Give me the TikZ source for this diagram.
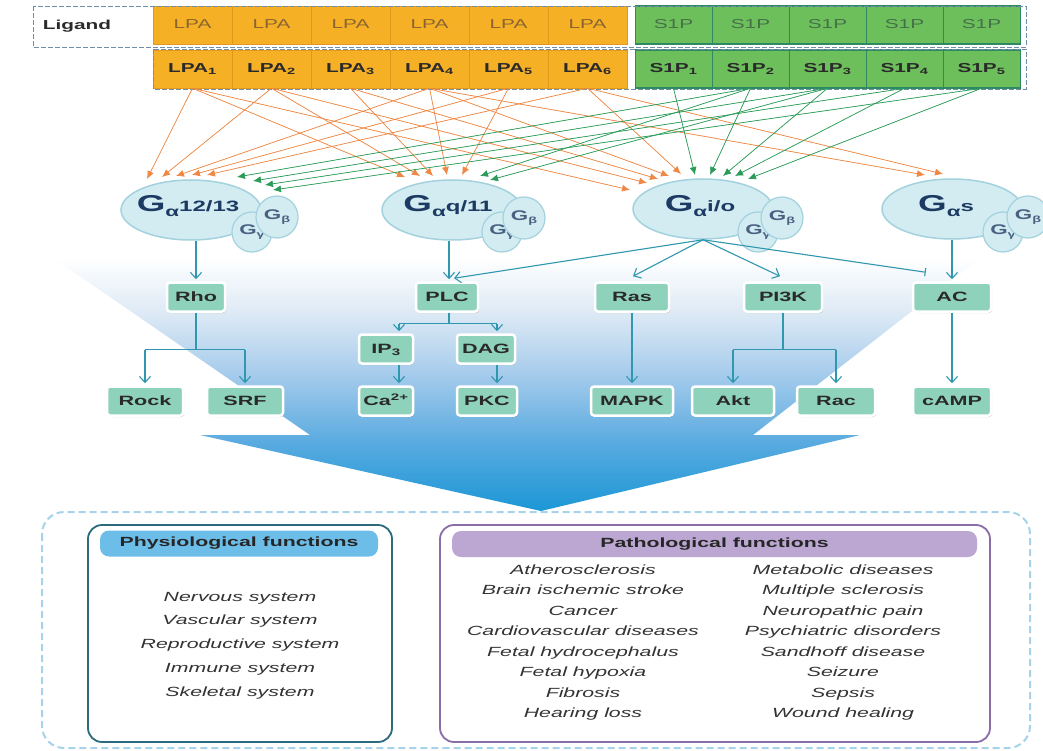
\documentclass[tikz,border=0pt]{standalone}
\usepackage{fontspec}
\setmainfont{Liberation Sans}[FakeStretch=1.6]
\usetikzlibrary{arrows.meta,shapes.geometric,shadows,calc}
\definecolor{lpaor}{HTML}{F6B026}
\definecolor{lpaline}{HTML}{E3981C}
\definecolor{sipgr}{HTML}{6DBF5C}
\definecolor{sipline}{HTML}{2E8A62}
\definecolor{arrOr}{HTML}{EE8844}
\definecolor{arrGr}{HTML}{2A9C58}
\definecolor{tealC}{HTML}{2F97AE}
\definecolor{boxg}{HTML}{8FD2BC}
\definecolor{navy}{HTML}{1D3A63}
\definecolor{ellF}{HTML}{D2ECF2}
\definecolor{ellD}{HTML}{A3D2DE}
\definecolor{dashB}{HTML}{A6D2EA}
\definecolor{dashT}{HTML}{6E8FA5}
\definecolor{physB}{HTML}{2B6B7D}
\definecolor{physH}{HTML}{6DBDE9}
\definecolor{pathB}{HTML}{8A6CA6}
\definecolor{pathH}{HTML}{BBA7D2}
\definecolor{bgA}{HTML}{1B97D6}
\definecolor{bgB}{HTML}{58AAE0}
\definecolor{bgC}{HTML}{A9CDEC}
\definecolor{bgD}{HTML}{DCE9F5}
\definecolor{txtL}{HTML}{8A6530}
\definecolor{txtS}{HTML}{46704A}
\definecolor{txtD}{HTML}{2A2A2A}
\pgfdeclareverticalshading{bgshade}{100bp}{color(0bp)=(bgA); color(25bp)=(bgA); color(37bp)=(bgB); color(50bp)=(bgC); color(60bp)=(bgD); color(70bp)=(white); color(100bp)=(white)}
\newcommand\Gsub[1]{{\fontsize{23}{23}\selectfont G}\raisebox{-5pt}{\fontsize{14}{14}\selectfont α}{\fontsize{15}{15}\selectfont #1}}
\newcommand\Gsmall[1]{{\fontsize{14}{14}\selectfont G}\raisebox{-3pt}{\fontsize{9}{9}\selectfont #1}}
\begin{document}
\begin{tikzpicture}[x=1pt,y=-1pt,
  cellL/.style={fill=lpaor,draw=lpaline,line width=0.5pt,minimum width=79pt,minimum height=38pt,inner sep=0pt,text height=9.5pt,text depth=2.5pt},
  cellS/.style={fill=sipgr,draw=sipline,line width=0.6pt,minimum width=77pt,minimum height=38pt,inner sep=0pt,text height=9.5pt,text depth=2.5pt},
  tnorm/.style={font=\fontsize{13}{13}\selectfont},
  tbold/.style={font=\fontsize{13}{13}\selectfont\bfseries,text=txtD},
  conn/.style={line width=0.7pt,-{Latex[length=8pt,width=7pt]}},
  gbig/.style={ellipse,fill=ellF,draw=ellD,line width=1.5pt,minimum width=140pt,minimum height=60pt,inner sep=0pt,text=navy,font=\bfseries},
  gsm/.style={circle,fill=ellF,draw=ellD,line width=1.2pt,inner sep=0pt,text=navy!80,font=\bfseries},
  sbox/.style={rounded corners=3pt,fill=boxg,draw=white,line width=2.5pt,minimum height=29pt,inner sep=0pt,
     font=\fontsize{13.5}{13.5}\selectfont\bfseries,text=txtD,text height=10pt,text depth=1pt,
     drop shadow={shadow xshift=1pt,shadow yshift=-1.5pt,opacity=0.35}},
  tline/.style={draw=tealC,line width=1.1pt},
  trunk/.style={draw=tealC,line width=2.6pt},
  tarr/.style={draw=tealC,line width=1.1pt,-{Straight Barb[length=6pt,width=11pt]}},
  item/.style={font=\fontsize{13.3}{13.3}\selectfont\itshape,text=black!80,text height=9.5pt,text depth=3pt,inner sep=0pt},
  head/.style={font=\fontsize{13.3}{13.3}\selectfont\bfseries,text=black!85,text height=9.5pt,text depth=3pt}
]
\useasboundingbox (0,0) rectangle (1043,751);
\clip (0,0) rectangle (1043,751);
\fill[white] (0,0) rectangle (1043,751);

% background funnel arrow
\shade[shading=bgshade] (13,230) -- (310,435) -- (200,435) -- (541,511) -- (860,435) -- (753,435) -- (1016,230) -- cycle;

% bottom dashed frame
\draw[dashB,line width=2pt,dash pattern=on 7pt off 4pt,rounded corners=22pt] (42,512) rectangle (1030,748);

% ---- top table ----
\foreach \i in {1,...,6}{
  \node[cellL,tnorm,text=txtL] (lpaT\i) at ({153+79*(\i-0.5)},25) {LPA};
  \node[cellL,tbold] (lpa\i) at ({153+79*(\i-0.5)},69) {LPA\textsubscript{\i}};
}
\foreach \i in {1,...,5}{
  \node[cellS,tnorm,text=txtS] (sT\i) at ({635+77*(\i-0.5)},25) {S1P};
  \node[cellS,tbold] (s\i) at ({635+77*(\i-0.5)},69) {S1P\textsubscript{\i}};
}
\draw[sipline,line width=1pt] (635,6) rectangle (1020,44);
\draw[sipline,line width=1pt] (635,50) rectangle (1020,88);
\draw[dashT,line width=0.8pt,dash pattern=on 5pt off 2pt] (33,6) rectangle (1026,47);
\draw[dashT,line width=0.8pt,dash pattern=on 5pt off 2pt] (153,49) rectangle (1026,89);
\node[font=\fontsize{13}{13}\selectfont\bfseries,text=txtD] (lig) at (77,26) {Ligand};

% ---- G proteins ----
\node[gbig] (g12) at (191,210) {};
\node[gsm,minimum size=40pt] (g12g) at (252,232) {\Gsmall{γ}};
\node[gsm,minimum size=42pt] (g12b) at (277,217) {\Gsmall{β}};
\node[text=navy,font=\bfseries] (g12t) at (188,206) {\Gsub{12/13}};

\node[gbig] (gq) at (452,210) {};
\node[gsm,minimum size=40pt] (gqg) at (502,232) {\Gsmall{γ}};
\node[gsm,minimum size=42pt] (gqb) at (524,218) {\Gsmall{β}};
\node[text=navy,font=\bfseries] (gqt) at (448,206) {\Gsub{q/11}};

\node[gbig] (gi) at (703,209) {};
\node[gsm,minimum size=40pt] (gig) at (758,232) {\Gsmall{γ}};
\node[gsm,minimum size=42pt] (gib) at (782,218) {\Gsmall{β}};
\node[text=navy,font=\bfseries] (git) at (700,206) {\Gsub{i/o}};

\node[gbig] (gs) at (952,209) {};
\node[gsm,minimum size=40pt] (gsg) at (1003,232) {\Gsmall{γ}};
\node[gsm,minimum size=42pt] (gsb) at (1028,217) {\Gsmall{β}};
\node[text=navy,font=\bfseries] (gst) at (946,206) {\Gsub{s}};

% ---- ligand -> G arrows ----
\coordinate (a1) at (147,179); \coordinate (a2) at (162,177); \coordinate (a3) at (176,176);
\coordinate (a4) at (192,175); \coordinate (a5) at (207,175);
\coordinate (a6) at (237,177); \coordinate (a7) at (253,181); \coordinate (a8) at (265,185); \coordinate (a9) at (273,190);
\coordinate (b1) at (405,177); \coordinate (b2) at (420,176); \coordinate (b3) at (433,176);
\coordinate (b4) at (447,175); \coordinate (b5) at (462,175);
\coordinate (b6) at (480,176); \coordinate (b7) at (490,180);
\coordinate (c1) at (630,190); \coordinate (c2) at (647,183); \coordinate (c3) at (658,179);
\coordinate (c4) at (669,176); \coordinate (c5) at (681,174);
\coordinate (c6) at (695,175); \coordinate (c7) at (710,175); \coordinate (c8) at (723,176);
\coordinate (c9) at (735,176); \coordinate (c10) at (748,179);
\coordinate (d1) at (925,175); \coordinate (d2) at (943,174);

\foreach \s/\t in {lpa1/a1,lpa2/a2,lpa4/a3,lpa5/a4,lpa6/a5,
                   lpa1/b1,lpa2/b2,lpa3/b3,lpa4/b4,lpa5/b5,
                   lpa1/c1,lpa2/c2,lpa3/c3,lpa4/c4,lpa6/c5,
                   lpa4/d1,lpa6/d2}
  \draw[conn,draw=arrOr,fill=arrOr] (\s.south) -- (\t);
\foreach \s/\t in {s2/a6,s3/a7,s4/a8,s5/a9,
                   s2/b6,s3/b7,
                   s1/c6,s2/c7,s3/c8,s4/c9,s5/c10}
  \draw[conn,draw=arrGr,fill=arrGr] (\s.south) -- (\t);

% ---- effector boxes ----
\node[sbox,minimum width=58pt] (rho) at (196,297) {Rho};
\node[sbox,minimum width=62pt] (plc) at (447,297) {PLC};
\node[sbox,minimum width=74pt] (ras) at (632,297) {Ras};
\node[sbox,minimum width=78pt] (pi3k) at (783,297) {PI3K};
\node[sbox,minimum width=78pt] (ac) at (952,297) {AC};
\node[sbox,minimum width=54pt] (ip3) at (386,349) {IP\textsubscript{3}};
\node[sbox,minimum width=58pt] (dag) at (486,349) {DAG};
\node[sbox,minimum width=76pt] (rock) at (145,401) {Rock};
\node[sbox,minimum width=76pt] (srf) at (245,401) {SRF};
\node[sbox,minimum width=54pt] (ca) at (386,401) {Ca\textsuperscript{2+}};
\node[sbox,minimum width=60pt] (pkc) at (487,401) {PKC};
\node[sbox,minimum width=82pt] (mapk) at (632,401) {MAPK};
\node[sbox,minimum width=82pt] (akt) at (733,401) {Akt};
\node[sbox,minimum width=78pt] (rac) at (836,401) {Rac};
\node[sbox,minimum width=78pt] (camp) at (952,401) {cAMP};

% ---- teal connectors ----
\draw[tarr] (rho.north |- g12.south) -- ($(rho.north)+(0,-2)$);
\draw[tarr] ($(plc.north |- gq.south)+(2,0)$) -- ($(plc.north)+(2,-2)$);
\draw[tarr] (gi.south) -- ($(plc.north)+(7,-3)$);
\draw[tarr] (gi.south) -- ($(ras.north)+(1,-5)$);
\draw[tarr] (gi.south) -- ($(pi3k.north)+(-3,-5)$);
\draw[tealC,line width=1.1pt,-{Bar[width=8pt]}] (gi.south) -- ($(ac.north west)+(14,-9)$);
\draw[tarr] (ac.north |- gs.south) -- ($(ac.north)+(0,-2)$);

\draw[trunk] (rho.south) -- ++(0,37) coordinate (rhoj);
\draw[tline] (rock.north |- rhoj) -- (srf.north |- rhoj);
\draw[tarr] (rock.north |- rhoj) -- ($(rock.north)+(0,-2)$);
\draw[tarr] (srf.north |- rhoj) -- ($(srf.north)+(0,-2)$);

\draw[trunk] ($(plc.south)+(2,0)$) -- ++(0,11) coordinate (plcj);
\coordinate (ipx) at ($(ip3.north)+(13,0)$);
\coordinate (dgx) at ($(dag.north)+(11,0)$);
\draw[tline] (ipx |- plcj) -- (dgx |- plcj);
\draw[tarr] (ipx |- plcj) -- ($(ipx)+(0,-2)$);
\draw[tarr] (dgx |- plcj) -- ($(dgx)+(0,-2)$);
\draw[tarr] (ipx |- ip3.south) -- ($(ipx |- ca.north)+(0,-2)$);
\draw[tarr] (dgx |- dag.south) -- ($(dgx |- pkc.north)+(0,-2)$);

\draw[tarr] (ras.south) -- ($(mapk.north)+(0,-2)$);

\draw[tline] (pi3k.south) -- ++(0,37) coordinate (pij);
\draw[tline] (akt.north |- pij) -- (rac.north |- pij);
\draw[tarr] (akt.north |- pij) -- ($(akt.north)+(0,-2)$);
\draw[tarr] (rac.north |- pij) -- ($(rac.north)+(0,-2)$);

\draw[tarr] (ac.south) -- ($(camp.north)+(0,-2)$);

% ---- function boxes ----
\node[draw=physB,line width=1.8pt,rounded corners=14pt,minimum width=304pt,minimum height=217pt] (phys) at (240,633.5) {};
\node[fill=physH,rounded corners=9pt,minimum width=278pt,minimum height=26pt,head] (physh) at (239,543.5) {Physiological functions};
\foreach \t [count=\k] in {Nervous system,Vascular system,Reproductive system,Immune system,Skeletal system}
  \node[item] (ph\k) at (240,{598+23.7*(\k-1)}) {\t};

\node[draw=pathB,line width=1.8pt,rounded corners=14pt,minimum width=550pt,minimum height=217pt] (path) at (715,633.5) {};
\node[fill=pathH,rounded corners=9pt,minimum width=525pt,minimum height=26pt,head] (pathh) at (714.5,544) {Pathological functions};
\foreach \t [count=\k] in {Atherosclerosis,Brain ischemic stroke,Cancer,Cardiovascular diseases,Fetal hydrocephalus,Fetal hypoxia,Fibrosis,Hearing loss}
  \node[item] (pl\k) at (583,{571+20.5*(\k-1)}) {\t};
\foreach \t [count=\k] in {Metabolic diseases,Multiple sclerosis,Neuropathic pain,Psychiatric disorders,Sandhoff disease,Seizure,Sepsis,Wound healing}
  \node[item] (pr\k) at (843,{571+20.5*(\k-1)}) {\t};
\end{tikzpicture}
\end{document}
